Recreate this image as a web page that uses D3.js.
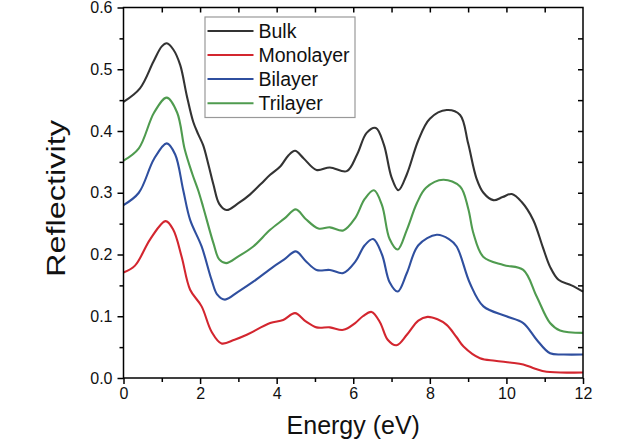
<!DOCTYPE html>
<html>
<head>
<meta charset="utf-8">
<script src="https://cdn.jsdelivr.net/npm/d3@7"></script>
<style>
  html, body { margin: 0; padding: 0; background: #fff; }
  svg { display: block; font-family: Arial, "Liberation Sans", Helvetica, sans-serif; }
</style>
</head>
<body>
<svg id="chart" width="640" height="441"></svg>
<script>
// ---- Data ----
const seriesNames = ["Bulk", "Monolayer", "Bilayer", "Trilayer"];
const seriesColors = ["#333333", "#d3262f", "#2f4f9f", "#4f9b4f"];

const bulk = [[0,0.447],[0.43,0.469],[0.78,0.512],[1.0,0.537],[1.13,0.542],[1.3,0.532],[1.48,0.507],[1.65,0.458],[1.82,0.415],[1.95,0.395],[2.08,0.377],[2.22,0.345],[2.35,0.313],[2.5,0.282],[2.69,0.272],[3.0,0.283],[3.3,0.297],[3.6,0.315],[3.83,0.329],[4.1,0.343],[4.3,0.36],[4.48,0.368],[4.7,0.356],[5.04,0.337],[5.39,0.341],[5.83,0.335],[6.1,0.362],[6.35,0.397],[6.59,0.405],[6.8,0.378],[7.0,0.325],[7.18,0.304],[7.4,0.33],[7.7,0.385],[8.0,0.42],[8.44,0.434],[8.79,0.426],[9.0,0.38],[9.22,0.323],[9.4,0.3],[9.66,0.288],[9.9,0.293],[10.14,0.298],[10.4,0.285],[10.7,0.256],[10.95,0.212],[11.14,0.18],[11.36,0.159],[11.7,0.15],[12.0,0.14]];

const monolayer = [[0,0.171],[0.3,0.182],[0.7,0.225],[1.1,0.254],[1.3,0.24],[1.52,0.196],[1.74,0.143],[2.04,0.116],[2.3,0.075],[2.56,0.056],[2.9,0.062],[3.22,0.07],[3.83,0.089],[4.17,0.094],[4.48,0.105],[4.75,0.092],[5.04,0.082],[5.39,0.082],[5.74,0.078],[6.05,0.089],[6.25,0.1],[6.48,0.107],[6.7,0.09],[6.9,0.062],[7.13,0.053],[7.4,0.07],[7.7,0.093],[7.94,0.099],[8.2,0.095],[8.44,0.086],[8.7,0.066],[8.88,0.051],[9.31,0.032],[9.7,0.028],[10.09,0.025],[10.44,0.022],[10.75,0.015],[11.05,0.01],[12.0,0.009]];

const bilayer = [[0,0.28],[0.4,0.3],[0.8,0.355],[1.13,0.38],[1.35,0.362],[1.56,0.304],[1.74,0.256],[2.04,0.213],[2.3,0.159],[2.45,0.135],[2.65,0.127],[3.0,0.14],[3.39,0.156],[3.91,0.18],[4.2,0.192],[4.5,0.205],[4.75,0.19],[5.04,0.175],[5.39,0.175],[5.74,0.17],[6.05,0.188],[6.3,0.215],[6.52,0.225],[6.75,0.2],[6.95,0.155],[7.16,0.14],[7.4,0.17],[7.7,0.215],[8.18,0.232],[8.5,0.225],[8.7,0.213],[9.05,0.153],[9.4,0.116],[10.0,0.1],[10.44,0.089],[10.79,0.062],[11.14,0.04],[11.5,0.038],[12.0,0.038]];

const trilayer = [[0,0.352],[0.4,0.372],[0.8,0.43],[1.13,0.454],[1.4,0.43],[1.6,0.37],[1.8,0.33],[1.95,0.304],[2.08,0.277],[2.35,0.218],[2.5,0.192],[2.68,0.186],[3.0,0.197],[3.39,0.213],[3.83,0.24],[4.2,0.258],[4.5,0.273],[4.75,0.258],[5.09,0.242],[5.39,0.244],[5.74,0.239],[6.05,0.259],[6.3,0.29],[6.54,0.304],[6.75,0.28],[6.95,0.225],[7.16,0.208],[7.4,0.24],[7.66,0.283],[7.9,0.308],[8.35,0.321],[8.79,0.31],[9.0,0.275],[9.14,0.234],[9.4,0.196],[9.92,0.183],[10.44,0.175],[10.79,0.132],[11.14,0.089],[11.4,0.077],[12.0,0.073]];

const xTicks = [0, 2, 4, 6, 8, 10, 12];
const yTicks = [0.0, 0.1, 0.2, 0.3, 0.4, 0.5, 0.6];
const xLabel = "Energy (eV)";
const yLabel = "Reflectivity";

// ---- Layout ----
const svg = d3.select("#chart");
const L = 123.5, R = 583, T = 7.5, B = 378;
const x = d3.scaleLinear().domain([0, 12]).range([L, R]);
const y = d3.scaleLinear().domain([0, 0.6]).range([B, T]);

const allSeries = [bulk, monolayer, bilayer, trilayer];

// lines
const line = d3.line().x(d => x(d[0])).y(d => y(d[1])).curve(d3.curveCatmullRom.alpha(0.5));
svg.append("g").selectAll("path").data(allSeries).join("path")
  .attr("d", line)
  .attr("fill", "none")
  .attr("stroke", (d, i) => seriesColors[i])
  .attr("stroke-width", 2.1)
  .attr("stroke-linejoin", "round");

// axes
const xMinor = d3.range(1, 12, 2);
const yMinor = d3.range(0.05, 0.6, 0.1);

svg.append("g").attr("transform", `translate(0,${B})`)
  .call(d3.axisBottom(x).tickValues(xTicks).tickFormat(d3.format("d")).tickSize(6).tickPadding(4));
svg.append("g").attr("transform", `translate(0,${B})`)
  .call(d3.axisBottom(x).tickValues(xMinor).tickFormat("").tickSize(4));

svg.append("g").attr("transform", `translate(${L},0)`)
  .call(d3.axisLeft(y).tickValues(yTicks).tickFormat(d3.format(".1f")).tickSize(6).tickPadding(5));
svg.append("g").attr("transform", `translate(${L},0)`)
  .call(d3.axisLeft(y).tickValues(yMinor).tickFormat("").tickSize(4));

svg.append("g").attr("transform", `translate(0,${T})`)
  .call(d3.axisBottom(x).tickValues(d3.range(1, 12, 1)).tickFormat("").tickSize(5));
svg.append("g").attr("transform", `translate(${R},0)`)
  .call(d3.axisLeft(y).tickValues(d3.range(0.05, 0.6, 0.05)).tickFormat("").tickSize(5));

svg.selectAll(".domain").remove();
svg.selectAll(".tick line").attr("stroke", "#000").attr("stroke-width", 1.5);
svg.selectAll(".tick text").attr("fill", "#111").style("font-size", "16px");

// frame
svg.append("rect").attr("x", L).attr("y", T).attr("width", R - L).attr("height", B - T)
  .attr("fill", "none").attr("stroke", "#000").attr("stroke-width", 1.5);

// axis titles
svg.append("text").attr("x", (L + R) / 2).attr("y", 434).attr("text-anchor", "middle")
  .style("font-size", "25px").attr("fill", "#111").text(xLabel);
svg.append("text").attr("transform", `translate(65,198.5) rotate(-90)`).attr("text-anchor", "middle")
  .attr("textLength", 157).attr("lengthAdjust", "spacingAndGlyphs")
  .style("font-size", "25px").attr("fill", "#111").text(yLabel);

// legend
const lg = svg.append("g");
lg.append("rect").attr("x", 205).attr("y", 17).attr("width", 150).attr("height", 100.5)
  .attr("fill", "#fff").attr("stroke", "#999").attr("stroke-width", 1.2);
const rowY = [31, 55, 79, 103.3];
seriesNames.forEach((n, i) => {
  lg.append("line").attr("x1", 207.5).attr("x2", 253.5).attr("y1", rowY[i]).attr("y2", rowY[i])
    .attr("stroke", seriesColors[i]).attr("stroke-width", 2);
  lg.append("text").attr("x", 258.5).attr("y", rowY[i] + 7).style("font-size", "19.5px")
    .attr("fill", "#111").text(n);
});
</script>
</body>
</html>
